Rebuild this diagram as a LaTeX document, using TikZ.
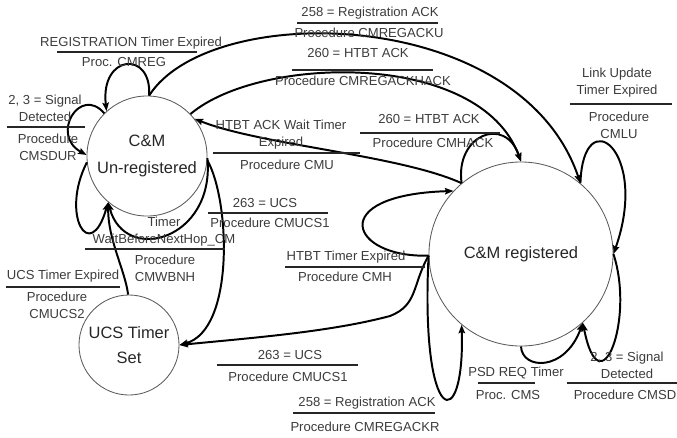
\documentclass[tikz,border=0pt]{standalone}
\usepackage{fontspec}
\setmainfont{Liberation Sans}
\usetikzlibrary{arrows.meta}
\definecolor{txtgray}{HTML}{3C3C3C}
\definecolor{ringgray}{HTML}{5A5A5A}

\begin{document}
\begin{tikzpicture}[x=0.025cm, y=-0.025cm,
	state/.style={draw=ringgray, line width=0.6pt, circle, inner sep=1pt, align=center, text=black!85, font=\fontsize{11.7}{19}\selectfont},
	lbl/.style={inner sep=0pt, align=center, text=txtgray, font=\fontsize{9.3}{12}\selectfont},
	rule/.style={line width=0.9pt, black!85},
	trans/.style={line width=1.4pt, -{Stealth[length=6pt, width=4.6pt, inset=1pt]}}]
		\useasboundingbox (0,0) rectangle (677,437);

		\node[state, minimum size=3cm] (unreg) at (147,156) {C\&M\\Un-registered};
		\node[state, minimum size=4.6cm] (reg) at (521,254) {C\&M registered};
		\node[state, minimum size=2.5cm, font=\fontsize{11.7}{17.7}\selectfont] (ucs) at (129,345) {UCS Timer\\Set};

		% around C&M Un-registered
		\draw[trans] (unreg.88) .. controls (152,50) and (100,54) .. (unreg.132);
		\draw[trans] (unreg.135) .. controls (80,85) and (50,135) .. (unreg.179);
		\draw[trans] (unreg.186) .. controls (60,215) and (90,265) .. (unreg.230);
		\draw[trans] (unreg.-2) .. controls (215,240) and (125,265) .. (unreg.230);
		\draw[trans] (ucs.91) .. controls (125,270) and (108,240) .. (unreg.230);
		\draw[trans] (unreg.-4) .. controls (230,200) and (235,330) .. (ucs.0);

		% between the two C&M states
		\draw[trans] (unreg.88) .. controls (210,0) and (520,5) .. (reg.50);
		\draw[trans] (unreg.44) .. controls (260,55) and (480,50) .. (reg.90);
		\draw[trans] (reg.130) .. controls (400,155) and (260,145) .. (unreg.38);

		% around C&M registered
		\draw[trans] (reg.130) .. controls (455,135) and (505,115) .. (reg.90);
		\draw[trans] (reg.181) .. controls (350,258) and (325,195) .. (reg.137);
		\draw[trans] (reg.181) .. controls (412,285) and (418,305) .. (390,316) .. controls (330,332) and (250,338) .. (ucs.0);
		\draw[trans] (reg.181) .. controls (420,430) and (465,435) .. (reg.230);
		\draw[trans] (reg.270) .. controls (522,370) and (565,372) .. (reg.312);
		\draw[trans] (reg.0) .. controls (635,320) and (600,410) .. (reg.312);
		\draw[trans] (reg.50) .. controls (583,100) and (650,150) .. (reg.0);

		% labels
		\node[lbl] (cmregev) at (131,43) {REGISTRATION Timer Expired};
		\draw[rule] (57,52) -- (197,52);
		\node[lbl] (cmregact) at (124,62) {Proc. CMREG};

		\node[lbl] (cmsdurev) at (45,108.5) {2, 3 = Signal\\Detected};
		\draw[rule] (7,127) -- (85,127);
		\node[lbl] (cmsduract) at (48,147) {Procedure\\CMSDUR};

		\node[lbl] (ackuev) at (370,13) {258 = Registration ACK};
		\draw[rule] (297,23) -- (438,23);
		\node[lbl] (ackuact) at (369,33) {Procedure CMREGACKU};

		\node[lbl] (ackhackev) at (358,53) {260 = HTBT ACK};
		\draw[rule] (292,70) -- (433,70);
		\node[lbl] (ackhackact) at (363,81) {Procedure CMREGACKHACK};

		\node[lbl] (cmluev) at (617,82.5) {Link Update\\Timer Expired};
		\draw[rule] (570,104) -- (672,104);
		\node[lbl] (cmluact) at (619,125) {Procedure\\CMLU};

		\node[lbl] (cmuev) at (281,134.5) {HTBT ACK Wait Timer\\Expired};
		\draw[rule] (213,153) -- (360,153);
		\node[lbl] (cmuact) at (287,165) {Procedure CMU};

		\node[lbl] (cmhackev) at (429,119) {260 = HTBT ACK};
		\draw[rule] (360,133) -- (500,133);
		\node[lbl] (cmhackact) at (433,143) {Procedure CMHACK};

		\node[lbl] (ucsoneev) at (265,203) {263 = UCS};
		\draw[rule] (208,213) -- (328,213);
		\node[lbl] (ucsoneact) at (270,223) {Procedure CMUCS1};

		\node[lbl] (wbnhev) at (164,232) {Timer\\WaitBeforeNextHop\_CM};
		\draw[rule] (85,249) -- (225,249);
		\node[lbl] (wbnhact) at (165,268.5) {Procedure\\CMWBNH};

		\node[lbl] (ucstwoev) at (63,276) {UCS Timer Expired};
		\draw[rule] (6,287) -- (120,287);
		\node[lbl] (ucstwoact) at (57,305.5) {Procedure\\CMUCS2};

		\node[lbl] (cmhev) at (346,257) {HTBT Timer Expired};
		\draw[rule] (285,267) -- (425,267);
		\node[lbl] (cmhact) at (345,277) {Procedure CMH};

		\node[lbl] (ucsregev) at (290,355) {263 = UCS};
		\draw[rule] (217,365) -- (358,365);
		\node[lbl] (ucsregact) at (288,377) {Procedure CMUCS1};

		\node[lbl] (ackrev) at (367,403) {258 = Registration ACK};
		\draw[rule] (293,413) -- (435,413);
		\node[lbl] (ackract) at (365,427) {Procedure CMREGACKR};

		\node[lbl] (cmsev) at (516,373) {PSD REQ Timer};
		\draw[rule] (478,383) -- (535,383);
		\node[lbl] (cmsact) at (508,395) {Proc. CMS};

		\node[lbl] (cmsdev) at (627,365) {2, 3 = Signal\\Detected};
		\draw[rule] (567,383) -- (677,383);
		\node[lbl] (cmsdact) at (625,395) {Procedure CMSD};
	\end{tikzpicture}
\end{document}
